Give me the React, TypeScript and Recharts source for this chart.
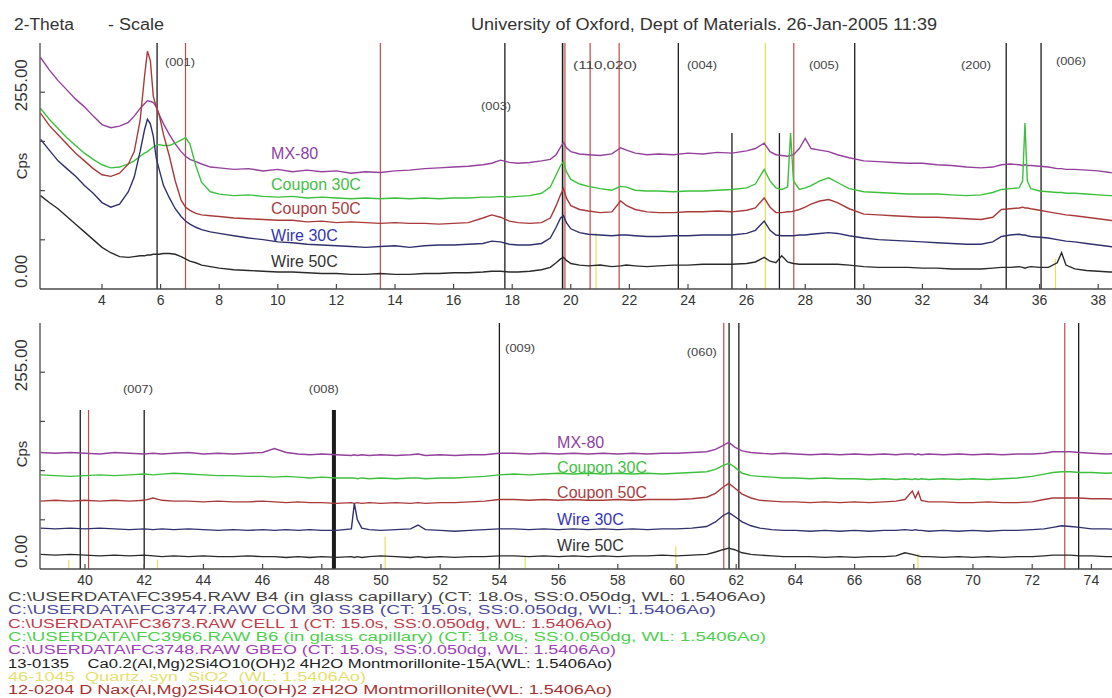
import React from 'react'
import { LineChart, Line, XAxis, YAxis, ReferenceLine, ReferenceDot } from 'recharts'

const FONT = '"Liberation Sans", Arial, sans-serif'
const AXIS = '#4a4a4a'
const TOP_CPS = 318.75

// upper scan window: 2-theta (deg), shared by all five patterns
const thetaTop = [
  1.9, 2.2, 2.5, 2.8, 3.1, 3.4, 3.7, 4.0, 4.3, 4.6,
  4.9, 5.1, 5.3, 5.45, 5.55, 5.65, 5.75, 5.85, 5.95, 6.1,
  6.3, 6.5, 6.7, 6.85, 7.0, 7.2, 7.4, 7.7, 8.0, 8.5,
  9.0, 9.5, 10.0, 10.5, 11.0, 11.5, 12.0, 12.5, 13.0, 13.5,
  14.0, 14.5, 15.0, 15.5, 16.0, 16.5, 17.0, 17.3, 17.6, 17.9,
  18.2, 18.6, 19.0, 19.3, 19.5, 19.65, 19.75, 19.85, 20.0, 20.3,
  20.6, 21.0, 21.4, 21.7, 21.9, 22.2, 22.6, 23.0, 23.5, 24.0,
  24.5, 25.0, 25.5, 26.0, 26.3, 26.6, 26.8, 27.0, 27.2, 27.4,
  27.5, 27.6, 27.8, 28.0, 28.2, 28.5, 28.8, 29.1, 29.5, 30.0,
  30.5, 31.0, 31.5, 32.0, 32.5, 33.0, 33.5, 34.0, 34.4, 34.7,
  35.0, 35.3, 35.42, 35.5, 35.58, 35.7, 36.0, 36.3, 36.6, 36.75,
  36.9, 37.2, 37.6, 38.0, 38.4, 38.8, 39.2, 40.0,
]
const mx80Top = [
  300, 284, 270, 258, 246, 236, 224, 213, 209, 211,
  216, 224, 234, 240, 244, 243, 242, 236, 226, 214,
  200, 188, 178, 172, 168, 165, 162, 158, 157, 155,
  156, 153, 155, 152, 154, 152, 153, 150, 152, 151,
  153, 154, 156, 157, 158, 159, 161, 163, 167, 164,
  163, 164, 166, 168, 174, 184, 190, 183, 178, 175,
  174, 173, 175, 183, 180, 176, 174, 175, 174, 176,
  175, 177, 176, 179, 182, 189, 178, 174, 173, 172,
  173, 174, 182, 195, 182, 180, 178, 174, 170, 166,
  165, 164, 163, 163, 161, 160, 158, 157, 158, 161,
  162, 161, 160, 161, 160, 160, 159, 158, 156, 156,
  155, 155, 154, 153, 151, 150, 150, 149,
]
const coupon30Top = [
  234, 220, 208, 196, 186, 176, 168, 161, 157, 158,
  162, 166, 172, 176, 178, 181, 184, 186, 187, 186,
  186, 189, 193, 196, 188, 160, 138, 126, 123, 121,
  122, 120, 119, 120, 118, 119, 118, 117, 118, 117,
  118, 117, 118, 117, 118, 118, 119, 119, 120, 119,
  120, 121, 124, 132, 148, 160, 165, 152, 142, 136,
  133, 130, 128, 133, 132, 128, 127, 127, 126, 127,
  127, 128, 129, 131, 136, 155, 140, 131, 129, 132,
  202, 140, 129, 131, 134, 140, 144, 138, 130, 126,
  125, 124, 123, 123, 123, 122, 121, 122, 125, 129,
  130, 131, 140, 215, 140, 130, 127, 126, 125, 125,
  124, 124, 123, 122, 121, 121, 120, 120,
]
const coupon50Top = [
  228, 212, 200, 188, 176, 166, 156, 148, 146, 150,
  162, 178, 218, 275, 308, 296, 250, 236, 226, 200,
  172, 140, 115, 106, 102, 98, 96, 95, 94, 92,
  91, 90, 89, 89, 87, 88, 86, 87, 86, 85,
  86, 85, 85, 84, 85, 86, 92, 96, 93, 88,
  86, 85, 86, 92, 108, 122, 130, 118, 108, 103,
  101, 99, 100, 114, 108, 103, 100, 99, 99, 100,
  100, 101, 100, 102, 105, 118, 106, 99, 99, 100,
  100, 101, 103, 106, 110, 114, 116, 112, 104, 97,
  96, 95, 94, 93, 93, 92, 91, 90, 93, 103,
  104, 105, 106, 105, 105, 104, 102, 100, 98, 97,
  96, 95, 93, 91, 89, 88, 88, 87,
]
const wire30Top = [
  194, 180, 166, 156, 146, 134, 124, 112, 106, 110,
  126, 145, 178, 206, 220, 214, 198, 170, 155, 134,
  118, 104, 94, 88, 84, 80, 77, 74, 72, 69,
  66, 64, 61, 60, 58, 57, 56, 55, 54, 55,
  56, 54, 56, 57, 57, 58, 59, 62, 61, 58,
  57, 57, 59, 66, 80, 92, 95, 86, 78, 73,
  71, 70, 69, 70, 70, 69, 68, 68, 69, 69,
  70, 70, 70, 72, 76, 88, 76, 70, 69, 69,
  69, 69, 70, 70, 71, 72, 73, 72, 69, 66,
  64, 63, 62, 61, 60, 59, 58, 58, 61, 68,
  70, 71, 70, 70, 69, 68, 67, 66, 64, 63,
  62, 61, 59, 57, 55, 54, 53, 52,
]
const wire50Top = [
  121, 112, 104, 94, 84, 74, 64, 54, 47, 42,
  41, 42, 43, 43, 44, 44, 45, 45, 45, 46,
  46, 45, 42, 39, 36, 34, 31, 29, 27, 25,
  24, 23, 22, 22, 21, 20, 20, 19, 19, 20,
  19, 19, 20, 20, 21, 21, 22, 23, 23, 22,
  22, 23, 25, 28, 34, 39, 41, 37, 33, 31,
  30, 31, 29, 30, 31, 30, 29, 30, 31, 31,
  32, 32, 32, 33, 35, 41, 36, 34, 43, 35,
  34, 33, 32, 32, 32, 32, 32, 32, 31, 29,
  28, 28, 28, 27, 27, 26, 26, 26, 27, 28,
  28, 29, 28, 27, 28, 29, 28, 28, 34, 47,
  31, 26, 24, 23, 22, 22, 21, 21,
]

// lower scan window
const thetaBottom = [
  38.5, 39.0, 39.5, 40.0, 40.5, 41.0, 41.5, 42.0, 42.3, 42.6,
  43.0, 43.5, 44.0, 44.5, 45.0, 45.5, 46.0, 46.4, 46.8, 47.2,
  47.6, 48.0, 48.5, 49.0, 49.1, 49.2, 49.35, 49.6, 50.0, 50.5,
  51.0, 51.25, 51.5, 52.0, 52.5, 53.0, 53.5, 54.0, 54.5, 55.0,
  55.5, 56.0, 56.5, 57.0, 57.5, 58.0, 58.5, 59.0, 59.5, 60.0,
  60.5, 61.0, 61.3, 61.55, 61.75, 61.95, 62.2, 62.5, 62.8, 63.2,
  63.6, 64.0, 64.5, 65.0, 65.5, 66.0, 66.5, 67.0, 67.4, 67.7,
  67.95, 68.05, 68.15, 68.25, 68.5, 69.0, 69.5, 70.0, 70.5, 71.0,
  71.5, 72.0, 72.4, 72.7, 73.0, 73.3, 73.6, 74.0, 74.5, 75.0,
  75.5, 76.0, 76.5,
]
const mx80Bottom = [
  151, 150, 151, 150, 149, 151, 150, 149, 150, 149,
  150, 151, 149, 150, 149, 150, 151, 156, 151, 149,
  148, 149, 148, 147, 148, 147, 148, 147, 148, 147,
  148, 149, 147, 148, 147, 148, 148, 150, 150, 149,
  150, 149, 150, 149, 150, 149, 150, 149, 150, 150,
  151, 152, 155, 160, 164, 158, 153, 151, 150, 149,
  150, 149, 148, 149, 148, 149, 148, 149, 148, 149,
  149, 148, 149, 148, 149, 148, 149, 148, 149, 148,
  149, 149, 150, 152, 152, 152, 151, 150, 149, 150,
  149, 149, 148,
]
const coupon30Bottom = [
  122, 121, 120, 121, 122, 121, 122, 123, 122, 123,
  124, 123, 122, 121, 121, 120, 120, 119, 120, 119,
  118, 119, 118, 118, 118, 117, 118, 117, 118, 117,
  118, 118, 117, 118, 118, 119, 120, 122, 123, 122,
  123, 124, 123, 124, 123, 124, 123, 124, 123, 124,
  125, 126, 129, 134, 137, 132, 124, 121, 120, 119,
  118, 118, 117, 118, 117, 117, 116, 117, 116, 117,
  116, 117, 116, 117, 116, 117, 116, 117, 116, 117,
  118, 120, 123, 125, 126, 126, 125, 125, 124, 125,
  124, 124, 123,
]
const coupon50Bottom = [
  88, 89, 88, 89, 88, 89, 88, 89, 92, 89,
  88, 88, 87, 88, 87, 87, 88, 87, 86, 87,
  86, 86, 85, 86, 85, 86, 85, 86, 85, 86,
  85, 86, 85, 86, 86, 87, 88, 90, 90, 89,
  90, 89, 90, 89, 89, 90, 89, 90, 90, 90,
  91, 93, 98, 106, 111, 105, 97, 92, 89, 88,
  87, 87, 86, 87, 86, 87, 86, 87, 88, 90,
  101, 92, 100, 89, 87, 87, 86, 86, 87, 86,
  86, 87, 90, 92, 92, 92, 92, 91, 91, 90,
  91, 90, 90,
]
const wire30Bottom = [
  53, 52, 53, 52, 53, 52, 51, 52, 51, 52,
  51, 52, 51, 50, 51, 50, 51, 50, 51, 50,
  51, 50, 50, 52, 85, 64, 53, 51, 50, 51,
  52, 57, 51, 50, 49, 50, 51, 52, 52, 51,
  52, 51, 52, 51, 52, 51, 52, 51, 52, 52,
  53, 55, 61, 69, 73, 68, 61, 56, 53, 51,
  50, 50, 49, 50, 49, 50, 49, 50, 50, 51,
  50, 51, 50, 50, 49, 50, 49, 50, 49, 50,
  50, 51, 52, 54, 56, 55, 54, 52, 52, 51,
  52, 51, 51,
]
const wire50Bottom = [
  19, 18, 19, 18, 17, 18, 17, 18, 17, 16,
  17, 16, 17, 16, 16, 17, 16, 16, 15, 16,
  15, 16, 15, 16, 15, 16, 15, 16, 17, 16,
  15, 16, 15, 16, 15, 16, 16, 17, 17, 16,
  17, 16, 17, 16, 17, 16, 17, 17, 18, 17,
  18, 19, 22, 25, 27, 25, 21, 19, 18, 17,
  16, 16, 16, 15, 16, 15, 16, 16, 17, 21,
  19, 18, 17, 16, 16, 15, 16, 15, 16, 15,
  16, 16, 17, 18, 18, 18, 17, 17, 16, 16,
  16, 15, 15,
]

const seriesKeys = ['mx80', 'coupon30', 'coupon50', 'wire30', 'wire50']
const seriesNames = ['MX-80', 'Coupon 30C', 'Coupon 50C', 'Wire 30C', 'Wire 50C']
const lineColors = ['#94409c', '#3cc03c', '#a83a3a', '#30306e', '#2a2a2a']
const nameColors = ['#8f3f9f', '#44c044', '#a84040', '#3535b5', '#333333']

// sample names are written at these (2-theta, cps) spots
const nameThetaTop = 9.77
const nameCpsTop = [175, 136, 104, 69, 35]
const nameThetaBottom = 55.95
const nameCpsBottom = [164, 131, 99, 64, 30]

// reference patterns: ca = 13-0135, na = 12-0204, qz = quartz
const cardColors: Record<string, string> = { ca: '#1c1c1c', na: '#c44848', qz: '#e4e25a' }
const refThetaTop = [5.88, 6.85, 13.5, 17.75, 19.72, 19.8, 20.66, 20.86, 21.65, 23.67, 25.5, 26.64, 27.12, 27.61, 29.69, 34.86, 36.05, 36.54]
const refCpsTop = [TOP_CPS, TOP_CPS, TOP_CPS, TOP_CPS, TOP_CPS, TOP_CPS, TOP_CPS, 73, TOP_CPS, TOP_CPS, 202, TOP_CPS, 202, TOP_CPS, TOP_CPS, TOP_CPS, TOP_CPS, 39]
const refCardTop = ['ca', 'na', 'na', 'ca', 'ca', 'na', 'na', 'qz', 'na', 'ca', 'ca', 'qz', 'ca', 'na', 'ca', 'ca', 'ca', 'qz']
const refWidthTop = [1.3, 1.2, 1.2, 1.3, 1.6, 1.2, 1.2, 1.2, 1.2, 1.3, 1.3, 1.3, 1.3, 1.2, 1.3, 1.3, 1.3, 1.2]

const refThetaBottom = [39.45, 39.84, 40.12, 42.0, 42.45, 48.41, 50.14, 54.0, 54.87, 59.96, 61.58, 61.76, 62.09, 68.14, 73.1, 73.57]
const refCpsBottom = [12, 206, 206, 206, 12, 206, 42, TOP_CPS, 16, 29, TOP_CPS, TOP_CPS, TOP_CPS, 20, TOP_CPS, TOP_CPS]
const refCardBottom = ['qz', 'ca', 'na', 'ca', 'qz', 'ca', 'qz', 'ca', 'qz', 'qz', 'na', 'ca', 'ca', 'qz', 'na', 'ca']
const refWidthBottom = [1.2, 1.3, 1.2, 1.3, 1.2, 4, 1.2, 1.3, 1.2, 1.2, 1.2, 1.3, 1.3, 1.2, 1.2, 1.3]

// Miller indices over the peaks
const hklTop = ['(001)', '(003)', '(110,020)', '(004)', '(005)', '(200)', '(006)']
const hklThetaTop = [6.66, 17.45, 21.17, 24.48, 28.64, 33.83, 37.07]
const hklCpsTop = [294, 237, 289, 290, 289, 290, 295]
const hklBottom = ['(007)', '(008)', '(009)', '(060)']
const hklThetaBottom = [41.79, 48.07, 54.7, 60.84]
const hklCpsBottom = [232, 232, 286, 280]

const cpsTicks = [0, 63.75, 127.5, 191.25, 255]
const cpsLabelled = [0, 255]
const ticksTop = [4, 6, 8, 10, 12, 14, 16, 18, 20, 22, 24, 26, 28, 30, 32, 34, 36, 38]
const ticksBottom = [40, 42, 44, 46, 48, 50, 52, 54, 56, 58, 60, 62, 64, 66, 68, 70, 72, 74]

const fileLines = [
  'C:\\USERDATA\\FC3954.RAW B4 (in glass capillary) (CT: 18.0s, SS:0.050dg, WL: 1.5406Ao)',
  'C:\\USERDATA\\FC3747.RAW COM 30 S3B (CT: 15.0s, SS:0.050dg, WL: 1.5406Ao)',
  'C:\\USERDATA\\FC3673.RAW CELL 1 (CT: 15.0s, SS:0.050dg, WL: 1.5406Ao)',
  'C:\\USERDATA\\FC3966.RAW B6 (in glass capillary) (CT: 18.0s, SS:0.050dg, WL: 1.5406Ao)',
  'C:\\USERDATA\\FC3748.RAW GBEO (CT: 15.0s, SS:0.050dg, WL: 1.5406Ao)',
  '13-0135    Ca0.2(Al,Mg)2Si4O10(OH)2 4H2O Montmorillonite-15A(WL: 1.5406Ao)',
  '46-1045  Quartz, syn  SiO2  (WL: 1.5406Ao)',
  '12-0204 D Nax(Al,Mg)2Si4O10(OH)2 zH2O Montmorillonite(WL: 1.5406Ao)',
]
const fileColors = ['#444444', '#4c4c9c', '#c03c48', '#4ed04e', '#a040b8', '#222222', '#e6e070', '#a83030']
const fileWidths = [758, 708, 604, 758, 608, 604, 358, 604]

function BottomTick(props: any) {
  const { x, y, payload } = props
  return (
    <g>
      <line x1={x} y1={y} x2={x} y2={y - 5} stroke={AXIS} strokeWidth={1.2} />
      <text x={x} y={y + 16} textAnchor="middle" fontSize={14} fill="#333" fontFamily={FONT}>
        {payload.value}
      </text>
    </g>
  )
}

function TopTick(props: any) {
  const { x, y } = props
  return <line x1={x} y1={y} x2={x} y2={y + 5} stroke={AXIS} strokeWidth={1.2} />
}

function CpsTick(props: any) {
  const { x, y, payload } = props
  const v = payload.value
  const isLow = v === cpsLabelled[0]
  const isHigh = v === cpsLabelled[1]
  return (
    <g>
      {v > 0 && <line x1={x} y1={y} x2={x + 5} y2={y} stroke={AXIS} strokeWidth={1.2} />}
      {(isLow || isHigh) && (
        <text
          transform={`translate(21 ${isLow ? y - 1 : y - 7}) rotate(-90)`}
          textAnchor={isLow ? 'start' : 'middle'}
          dominantBaseline="central"
          fontSize={17}
          fill="#333"
          fontFamily={FONT}
        >
          {v.toFixed(2)}
        </text>
      )}
    </g>
  )
}

const cpsTitle = (dy: number) => (props: any) => {
  const vb = props.viewBox
  return (
    <text
      transform={`translate(21 ${vb.y + vb.height / 2 + dy}) rotate(-90)`}
      textAnchor="middle"
      dominantBaseline="central"
      fontSize={15}
      fill="#333"
      fontFamily={FONT}
    >
      Cps
    </text>
  )
}

const nameTag = (text: string, color: string) => (props: any) => {
  const vb = props.viewBox
  return (
    <text x={vb.x} y={vb.y} dominantBaseline="central" fontSize={16} fill={color} fontFamily={FONT}>
      {text}
    </text>
  )
}

const hklTag = (text: string) => (props: any) => {
  const vb = props.viewBox
  return (
    <text
      x={vb.x}
      y={vb.y}
      textAnchor="middle"
      dominantBaseline="central"
      fontSize={10}
      fill="#444"
      fontFamily={FONT}
      textLength={text.length > 5 ? 64 : 30}
      lengthAdjust="spacingAndGlyphs"
    >
      {text}
    </text>
  )
}

type PanelProps = {
  theta: number[]
  values: number[][]
  domain: [number, number]
  ticks: number[]
  refTheta: number[]
  refCps: number[]
  refCard: string[]
  refWidth: number[]
  hkl: string[]
  hklTheta: number[]
  hklCps: number[]
  nameTheta: number
  nameCps: number[]
  marginTop: number
  cpsDy: number
}

function ScanPanel(p: PanelProps) {
  const rows = p.theta.map((t, i) => {
    const row: Record<string, number> = { t }
    seriesKeys.forEach((k, s) => {
      row[k] = p.values[s][i]
    })
    return row
  })
  return (
    <LineChart width={1160} height={p.marginTop + 246 + 34} data={rows} margin={{ top: p.marginTop, right: 0, bottom: 0, left: 0 }}>
      <XAxis
        dataKey="t"
        type="number"
        domain={p.domain}
        allowDataOverflow
        ticks={p.ticks}
        interval={0}
        tickSize={0}
        tickMargin={0}
        height={34}
        stroke={AXIS}
        strokeWidth={1.3}
        tick={<BottomTick />}
      />
      <XAxis
        xAxisId="top"
        orientation="top"
        type="number"
        domain={p.domain}
        allowDataOverflow
        ticks={p.ticks}
        interval={0}
        tickSize={0}
        tickMargin={0}
        height={0}
        stroke={AXIS}
        strokeWidth={1.3}
        tick={<TopTick />}
      />
      <YAxis
        type="number"
        domain={[0, TOP_CPS]}
        allowDataOverflow
        ticks={cpsTicks}
        interval={0}
        width={40}
        tickSize={0}
        tickMargin={0}
        stroke={AXIS}
        strokeWidth={1.3}
        tick={<CpsTick />}
        label={cpsTitle(p.cpsDy)}
      />
      {p.refTheta.map((t, i) => (
        <ReferenceLine
          key={`ref-${i}`}
          segment={[{ x: t, y: 0 }, { x: t, y: p.refCps[i] }]}
          stroke={cardColors[p.refCard[i]]}
          strokeWidth={p.refWidth[i]}
        />
      ))}
      {seriesKeys.map((k, s) => (
        <Line
          key={k}
          dataKey={k}
          type="linear"
          stroke={lineColors[s]}
          strokeWidth={1.4}
          dot={false}
          isAnimationActive={false}
        />
      ))}
      {seriesNames.map((name, s) => (
        <ReferenceDot
          key={`name-${s}`}
          x={p.nameTheta}
          y={p.nameCps[s]}
          r={0}
          fill="none"
          stroke="none"
          label={nameTag(name, nameColors[s])}
        />
      ))}
      {p.hkl.map((h, i) => (
        <ReferenceDot
          key={`hkl-${i}`}
          x={p.hklTheta[i]}
          y={p.hklCps[i]}
          r={0}
          fill="none"
          stroke="none"
          label={hklTag(h)}
        />
      ))}
    </LineChart>
  )
}

export default function App() {
  return (
    <div style={{ position: 'relative', width: 1112, height: 698, overflow: 'hidden', background: '#fff', fontFamily: FONT }}>
      <style>{'body{margin:0}'}</style>
      <svg width={1112} height={698} style={{ position: 'absolute', left: 0, top: 0 }}>
        <text x={14} y={30} fontSize={16} fill="#333" textLength={60} lengthAdjust="spacingAndGlyphs">2-Theta</text>
        <text x={108} y={30} fontSize={16} fill="#333" textLength={56} lengthAdjust="spacingAndGlyphs">- Scale</text>
        <text x={471} y={30} fontSize={16} fill="#333" textLength={466} lengthAdjust="spacingAndGlyphs">
          University of Oxford, Dept of Materials. 26-Jan-2005 11:39
        </text>
        {fileLines.map((line, i) => (
          <text
            key={i}
            x={8}
            y={601 + i * 13.3}
            fontSize={12.5}
            fill={fileColors[i]}
            textLength={fileWidths[i]}
            lengthAdjust="spacingAndGlyphs"
            style={{ whiteSpace: 'pre' }}
          >
            {line}
          </text>
        ))}
      </svg>
      <div style={{ position: 'absolute', left: 0, top: 0 }}>
        <ScanPanel
          theta={thetaTop}
          values={[mx80Top, coupon30Top, coupon50Top, wire30Top, wire50Top]}
          domain={[1.884, 40.109]}
          ticks={ticksTop}
          refTheta={refThetaTop}
          refCps={refCpsTop}
          refCard={refCardTop}
          refWidth={refWidthTop}
          hkl={hklTop}
          hklTheta={hklThetaTop}
          hklCps={hklCpsTop}
          nameTheta={nameThetaTop}
          nameCps={nameCpsTop}
          marginTop={43}
          cpsDy={0}
        />
      </div>
      <div style={{ position: 'absolute', left: 0, top: 313 }}>
        <ScanPanel
          theta={thetaBottom}
          values={[mx80Bottom, coupon30Bottom, coupon50Bottom, wire30Bottom, wire50Bottom]}
          domain={[38.48, 76.318]}
          ticks={ticksBottom}
          refTheta={refThetaBottom}
          refCps={refCpsBottom}
          refCard={refCardBottom}
          refWidth={refWidthBottom}
          hkl={hklBottom}
          hklTheta={hklThetaBottom}
          hklCps={hklCpsBottom}
          nameTheta={nameThetaBottom}
          nameCps={nameCpsBottom}
          marginTop={10}
          cpsDy={8}
        />
      </div>
    </div>
  )
}
